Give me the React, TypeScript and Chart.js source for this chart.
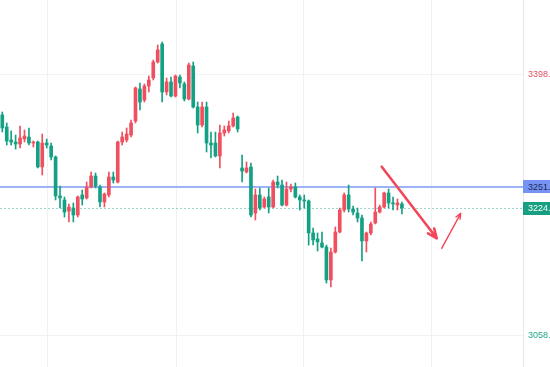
import React, { useEffect, useRef } from "react";
import { Chart, registerables } from "chart.js";

Chart.register(...registerables);

// OHLC values (91 candles)
const opens = [
  3345.9, 3330.3, 3313.3, 3310.7, 3308.1, 3314.6, 3317.2, 3309.4, 3310.7, 3278.2,
  3309.4, 3305.5, 3291.2, 3240.4, 3235.2, 3220.8, 3224.7, 3215.6, 3241.7, 3237.8,
  3252.1, 3266.4, 3252.1, 3232.6, 3241.7, 3265.1, 3258.6, 3310.7, 3313.3, 3319.8,
  3338.1, 3379.8, 3365.4, 3383.7, 3394.1, 3414.9, 3438.4, 3375.9, 3388.9, 3370.6,
  3395.4, 3386.3, 3366.7, 3409.7, 3356.3, 3332.9, 3356.3, 3309.4, 3309.4, 3292.5,
  3322.4, 3325.1, 3331.6, 3343.3, 3276.9, 3271.6, 3278.2, 3218.2, 3241.7, 3226.0,
  3239.1, 3226.0, 3258.6, 3254.7, 3228.6, 3249.5, 3252.1, 3239.1, 3235.2, 3233.9,
  3192.2, 3184.4, 3179.2, 3173.9, 3131.0, 3167.4, 3193.5, 3222.1, 3241.7, 3223.4,
  3218.2, 3211.7, 3181.8, 3192.2, 3205.2, 3219.5, 3226.0, 3244.3, 3231.3, 3228.6,
  3230.0,
];
const highs = [
  3349.8, 3335.5, 3325.1, 3319.8, 3331.6, 3326.4, 3329.0, 3312.0, 3312.0, 3321.1,
  3314.6, 3309.4, 3292.5, 3253.4, 3239.1, 3230.0, 3231.3, 3240.4, 3248.2, 3258.6,
  3271.6, 3270.3, 3254.7, 3244.3, 3271.6, 3271.6, 3312.0, 3323.7, 3329.0, 3339.4,
  3382.4, 3387.6, 3386.3, 3396.7, 3417.5, 3437.1, 3441.0, 3394.1, 3395.4, 3398.0,
  3398.0, 3388.9, 3413.6, 3414.9, 3362.8, 3362.8, 3362.8, 3323.7, 3323.7, 3332.9,
  3331.6, 3338.1, 3348.5, 3344.6, 3293.8, 3284.7, 3283.4, 3249.5, 3250.8, 3239.1,
  3250.8, 3261.2, 3266.4, 3261.2, 3258.6, 3256.0, 3257.3, 3241.7, 3241.7, 3235.2,
  3198.7, 3192.2, 3193.5, 3176.5, 3172.6, 3200.0, 3224.7, 3244.3, 3254.7, 3227.3,
  3224.7, 3215.6, 3193.5, 3206.5, 3250.8, 3228.6, 3245.6, 3249.5, 3239.1, 3236.5,
  3232.6,
];
const lows = [
  3323.7, 3306.8, 3306.8, 3301.6, 3302.9, 3310.7, 3306.8, 3304.2, 3276.9, 3267.7,
  3302.9, 3287.3, 3235.2, 3224.7, 3213.0, 3206.5, 3206.5, 3213.0, 3228.6, 3236.5,
  3250.8, 3250.8, 3226.0, 3226.0, 3239.1, 3257.3, 3257.3, 3306.8, 3310.7, 3317.2,
  3335.5, 3352.4, 3362.8, 3375.9, 3391.5, 3413.6, 3362.8, 3372.0, 3369.3, 3369.3,
  3381.1, 3364.1, 3365.4, 3355.0, 3322.4, 3330.3, 3297.7, 3289.9, 3291.2, 3276.9,
  3318.5, 3322.4, 3330.3, 3323.7, 3258.6, 3270.3, 3213.0, 3209.1, 3222.1, 3224.7,
  3218.2, 3224.7, 3250.8, 3227.3, 3227.3, 3245.6, 3237.8, 3222.1, 3224.7, 3176.5,
  3176.5, 3168.7, 3172.6, 3127.0, 3121.8, 3166.1, 3192.2, 3219.5, 3219.5, 3215.6,
  3206.5, 3155.7, 3167.4, 3189.6, 3203.9, 3218.2, 3224.7, 3224.7, 3222.1, 3222.1,
  3216.9,
];
const closes = [
  3329.0, 3312.0, 3310.7, 3308.1, 3315.9, 3318.5, 3309.4, 3310.7, 3278.2, 3309.4,
  3306.8, 3291.2, 3240.4, 3237.8, 3219.5, 3226.0, 3215.6, 3239.1, 3236.5, 3252.1,
  3266.4, 3253.4, 3232.6, 3243.0, 3265.1, 3261.2, 3310.7, 3317.2, 3321.1, 3335.5,
  3381.1, 3362.8, 3383.7, 3391.5, 3414.9, 3430.6, 3375.9, 3388.9, 3370.6, 3396.7,
  3387.6, 3366.7, 3411.0, 3356.3, 3332.9, 3356.3, 3309.4, 3306.8, 3292.5, 3322.4,
  3326.4, 3331.6, 3342.0, 3327.7, 3272.9, 3276.9, 3215.6, 3241.7, 3224.7, 3236.5,
  3226.0, 3258.6, 3254.7, 3228.6, 3249.5, 3252.1, 3239.1, 3235.2, 3233.9, 3192.2,
  3183.1, 3180.5, 3173.9, 3131.0, 3167.4, 3193.5, 3222.1, 3241.7, 3223.4, 3219.5,
  3211.7, 3181.8, 3192.2, 3203.9, 3219.5, 3226.0, 3244.3, 3231.3, 3230.0, 3231.3,
  3224.7,
];

// price axis
const priceMin = 3017.6;
const priceMax = 3495.7;
const priceTicks = [3058, 3398];
const priceTickColors = ["#22a68b", "#e04f60"];

// horizontal levels
const blueLevel = 3252.6;
const blueLabel = "3251.80";
const lastLabel = "3224.70";

// time grid (candle index)
const xGridAt = [10.1, 39.1, 67.7, 96.5];
const xMin = -0.518;
const xMax = 117.27;

// drawn arrows [index, price]
const arrowDownFrom = [85.45, 3278.5];
const arrowDownTo = [97.84, 3185.3];
const arrowUpFrom = [98.96, 3172.2];
const arrowUpTo = [103.24, 3217.8];

const UP = "#ef4f5e";
const DOWN = "#14a083";
const ARROW = "#f2475a";
const FONT = "'Liberation Sans', Arial, sans-serif";

function drawArrow(ctx, x1, y1, x2, y2, width, head) {
  ctx.save();
  ctx.strokeStyle = ARROW;
  ctx.lineWidth = width;
  ctx.lineCap = "round";
  ctx.beginPath();
  ctx.moveTo(x1, y1);
  ctx.lineTo(x2, y2);
  const ang = Math.atan2(y2 - y1, x2 - x1);
  const spread = 0.4;
  ctx.moveTo(x2, y2);
  ctx.lineTo(x2 - head * Math.cos(ang - spread), y2 - head * Math.sin(ang - spread));
  ctx.moveTo(x2, y2);
  ctx.lineTo(x2 - head * Math.cos(ang + spread), y2 - head * Math.sin(ang + spread));
  ctx.stroke();
  ctx.restore();
}

const overlay = {
  id: "overlay",
  beforeDatasetsDraw(chart) {
    const { ctx, chartArea: a, scales } = chart;
    const x = scales.x;
    const y = scales.y;
    ctx.save();
    ctx.lineWidth = 1;
    ctx.strokeStyle = "#eef0f5";
    xGridAt.forEach((v) => {
      const px = Math.round(x.getPixelForValue(v)) + 0.5;
      ctx.beginPath();
      ctx.moveTo(px, a.top);
      ctx.lineTo(px, a.bottom);
      ctx.stroke();
    });
    const last = closes[closes.length - 1];
    const dy = Math.round(y.getPixelForValue(last)) + 0.5;
    ctx.strokeStyle = "rgba(20,160,131,0.42)";
    ctx.setLineDash([2, 2]);
    ctx.beginPath();
    ctx.moveTo(a.left, dy);
    ctx.lineTo(a.right, dy);
    ctx.stroke();
    ctx.setLineDash([]);
    const by = Math.round(y.getPixelForValue(blueLevel));
    ctx.fillStyle = "#9db3f8";
    ctx.fillRect(a.left, by - 1, a.right - a.left, 2);
    ctx.restore();
  },
  afterDatasetsDraw(chart) {
    const { ctx, scales } = chart;
    const x = scales.x;
    const y = scales.y;
    drawArrow(
      ctx,
      x.getPixelForValue(arrowDownFrom[0]), y.getPixelForValue(arrowDownFrom[1]),
      x.getPixelForValue(arrowDownTo[0]), y.getPixelForValue(arrowDownTo[1]),
      2.6, 10
    );
    drawArrow(
      ctx,
      x.getPixelForValue(arrowUpFrom[0]), y.getPixelForValue(arrowUpFrom[1]),
      x.getPixelForValue(arrowUpTo[0]), y.getPixelForValue(arrowUpTo[1]),
      1.4, 6
    );
  },
  afterDraw(chart) {
    const { ctx, chartArea: a, scales, width } = chart;
    const y = scales.y;
    const boxes = [
      { v: blueLevel, t: blueLabel, bg: "#7593f3", fg: "#1b2550" },
      { v: closes[closes.length - 1], t: lastLabel, bg: "#169f80", fg: "#ffffff" },
    ];
    ctx.save();
    ctx.font = "9px " + FONT;
    ctx.textBaseline = "middle";
    boxes.forEach((b) => {
      const cy = y.getPixelForValue(b.v);
      ctx.fillStyle = b.bg;
      ctx.fillRect(a.right, Math.round(cy - 6.5), width - a.right, 13);
      ctx.fillStyle = b.fg;
      ctx.fillText(b.t, a.right + 5, cy + 0.5);
    });
    ctx.restore();
  },
};

export default function App() {
  const ref = useRef(null);
  useEffect(() => {
    const idx = opens.map((_, i) => i);
    const colors = idx.map((i) => (closes[i] >= opens[i] ? UP : DOWN));
    const chart = new Chart(ref.current, {
      type: "bar",
      data: {
        datasets: [
          {
            label: "wick",
            data: idx.map((i) => ({ x: i, y: [lows[i], highs[i]] })),
            backgroundColor: colors,
            barThickness: 1,
            grouped: false,
            order: 2,
          },
          {
            label: "body",
            data: idx.map((i) => ({ x: i, y: [opens[i], closes[i]] })),
            backgroundColor: colors,
            barThickness: 3,
            minBarLength: 1,
            grouped: false,
            order: 1,
          },
        ],
      },
      options: {
        responsive: false,
        animation: false,
        devicePixelRatio: 1,
        layout: { padding: 0, autoPadding: false },
        plugins: { legend: { display: false }, tooltip: { enabled: false } },
        scales: {
          x: {
            type: "linear",
            min: xMin,
            max: xMax,
            offset: false,
            display: false,
          },
          y: {
            position: "right",
            min: priceMin,
            max: priceMax,
            offset: false,
            afterBuildTicks: (s) => {
              s.ticks = priceTicks.map((v) => ({ value: v }));
            },
            afterFit: (s) => {
              s.width = 57;
              s.paddingTop = 0;
              s.paddingBottom = 0;
            },
            grid: { color: "#f0f2f6", drawTicks: false },
            border: { display: true, color: "#e3e6ee" },
            ticks: {
              padding: 5,
              font: { size: 9, family: FONT },
              color: (c) => priceTickColors[priceTicks.indexOf(c.tick.value)] || "#888",
              callback: (v) => Number(v).toFixed(2),
            },
          },
        },
      },
      plugins: [overlay],
    });
    return () => chart.destroy();
  }, []);
  return (
    <div
      style={{
        position: "fixed",
        left: 0,
        top: 0,
        width: 550,
        height: 367,
        overflow: "hidden",
        background: "#ffffff",
      }}
    >
      <canvas ref={ref} width={580} height={367} style={{ display: "block", width: 580, height: 367 }} />
    </div>
  );
}
